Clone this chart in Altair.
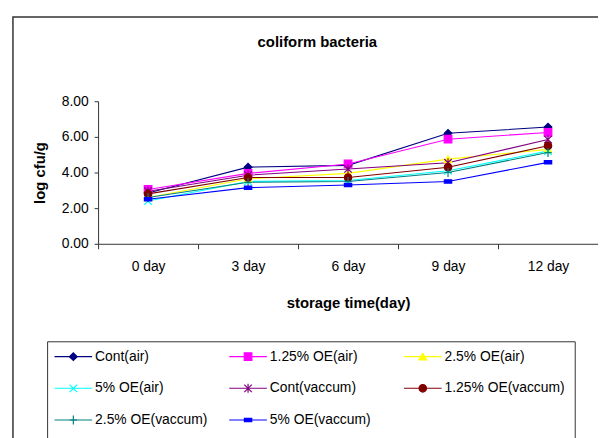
import altair as alt
import pandas as pd

days = ["0 day", "3 day", "6 day", "9 day", "12 day"]
series = ["Cont(air)", "1.25% OE(air)", "2.5% OE(air)", "5% OE(air)",
          "Cont(vaccum)", "1.25% OE(vaccum)", "2.5% OE(vaccum)", "5% OE(vaccum)"]

cont_air = [2.85, 4.30, 4.40, 6.20, 6.55]
oe125_air = [3.05, 3.95, 4.48, 5.87, 6.25]
oe25_air = [2.60, 3.65, 3.95, 4.75, 5.30]
oe5_air = [2.40, 3.50, 3.55, 4.10, 5.20]
cont_vac = [2.95, 3.85, 4.20, 4.55, 5.85]
oe125_vac = [2.80, 3.72, 3.72, 4.30, 5.50]
oe25_vac = [2.60, 3.45, 3.50, 4.00, 5.12]
oe5_vac = [2.50, 3.15, 3.30, 3.50, 4.57]
values = [cont_air, oe125_air, oe25_air, oe5_air, cont_vac, oe125_vac, oe25_vac, oe5_vac]

# styles
colors = ["#000080", "#FF00FF", "#FFFF00", "#00FFFF", "#800080", "#800000", "#008080", "#0000FF"]
fills = ["#000080", "#FF00FF", "#FFFF00", "transparent", "transparent", "#800000", "transparent", "#0000FF"]
shapes = ["diamond", "square", "triangle-up",
          "M-1,-1L1,1M-1,1L1,-1",
          "M-1,-1L1,1M-1,1L1,-1M0,-1.2L0,1.2",
          "circle",
          "M0,-1.2L0,1.2M-1,0L1,0",
          "M-1,-0.45L1,-0.45L1,0.45L-1,0.45Z"]
sizes = [60, 55, 60, 45, 60, 50, 75, 25]

rows = []
for s, vals in zip(series, values):
    for i, (d, v) in enumerate(zip(days, vals)):
        rows.append({"series": s, "day": d, "idx": i, "value": v})
df = pd.DataFrame(rows)

leg = pd.DataFrame({"series": series,
                    "col": [i % 3 for i in range(len(series))],
                    "row": [i // 3 for i in range(len(series))]})

FONT = "Liberation Sans"

color_scale = alt.Scale(domain=series, range=colors)
fill_scale = alt.Scale(domain=series, range=fills)
shape_scale = alt.Scale(domain=series, range=shapes)
size_scale = alt.Scale(domain=series, range=sizes)

x = alt.X("day:N", sort=days,
          scale=alt.Scale(type="band", paddingInner=0, paddingOuter=0),
          axis=alt.Axis(title="storage time(day)", tickBand="extent", labelAngle=0,
                        labelFont=FONT, labelFontSize=14, labelColor="#000000",
                        labelPadding=11, tickSize=5, tickColor="#333333",
                        domainColor="#333333", titleFont=FONT, titleFontSize=15,
                        titleFontWeight="bold", titleColor="#000000", titlePadding=22))
y = alt.Y("value:Q",
          scale=alt.Scale(domain=[0, 8], nice=False, zero=True),
          axis=alt.Axis(values=[0, 2, 4, 6, 8], format=".2f", grid=False,
                        title="log cfu/g", labelFont=FONT, labelFontSize=14,
                        labelColor="#000000", labelPadding=6, tickSize=4,
                        tickColor="#333333", domainColor="#333333",
                        titleFont=FONT, titleFontSize=15, titleFontWeight="bold",
                        titleColor="#000000", titlePadding=14))

lines = alt.Chart(df).mark_line(strokeWidth=1.1).encode(
    x=x, y=y,
    color=alt.Color("series:N", scale=color_scale, legend=None),
    order=alt.Order("idx:Q"),
)
points = alt.Chart(df).mark_point(opacity=1, fillOpacity=1, strokeWidth=1.2).encode(
    x=x, y=y,
    stroke=alt.Stroke("series:N", scale=color_scale, legend=None),
    fill=alt.Fill("series:N", scale=fill_scale, legend=None),
    shape=alt.Shape("series:N", scale=shape_scale, legend=None),
    size=alt.Size("series:N", scale=size_scale, legend=None),
)

frame_df = pd.DataFrame({"k": [0]})
outer = alt.Chart(frame_df).mark_rect(fill=None, stroke="#333333", strokeWidth=1.5).encode(
    x=alt.value(-86), x2=alt.value(540), y=alt.value(-85), y2=alt.value(420))
legbox = alt.Chart(frame_df).mark_rect(fill=None, stroke="#333333", strokeWidth=1).encode(
    x=alt.value(-51), x2=alt.value(482), y=alt.value(243), y2=alt.value(420))

lx = alt.X("col:Q", scale=alt.Scale(domain=[0, 2], range=[-44, 309], nice=False, zero=False), axis=None)
ly = alt.Y("row:Q", scale=alt.Scale(domain=[0, 2], range=[258, 322], nice=False, zero=False), axis=None)

leg_lines = alt.Chart(leg).mark_rule(x2Offset=38, strokeWidth=1.1).encode(
    x=lx, x2="col:Q", y=ly,
    color=alt.Color("series:N", scale=color_scale, legend=None))
leg_points = alt.Chart(leg).mark_point(opacity=1, fillOpacity=1, strokeWidth=1.2, xOffset=19).encode(
    x=lx, y=ly,
    stroke=alt.Stroke("series:N", scale=color_scale, legend=None),
    fill=alt.Fill("series:N", scale=fill_scale, legend=None),
    shape=alt.Shape("series:N", scale=shape_scale, legend=None),
    size=alt.Size("series:N", scale=size_scale, legend=None))
leg_text = alt.Chart(leg).mark_text(align="left", baseline="middle", xOffset=41,
                                    font=FONT, fontSize=14, color="#000000").encode(
    x=lx, y=ly, text="series:N")

main = alt.layer(lines, points)
legend = alt.layer(leg_lines, leg_points, leg_text)

chart = alt.layer(outer, main, legbox, legend).resolve_scale(
    x="independent", y="independent"
).properties(
    width=505, height=144,
    title=alt.Title("coliform bacteria", font=FONT, fontSize=15, fontWeight="bold",
                    color="#000000", frame="group", anchor="middle", dx=-31, offset=-34),
    autosize=alt.AutoSizeParams(type="none"),
    padding={"left": 91, "top": 92, "right": 0, "bottom": 194},
).configure_view(stroke=None)

chart.save("out.html", embed_options={"renderer": "svg", "actions": False})
